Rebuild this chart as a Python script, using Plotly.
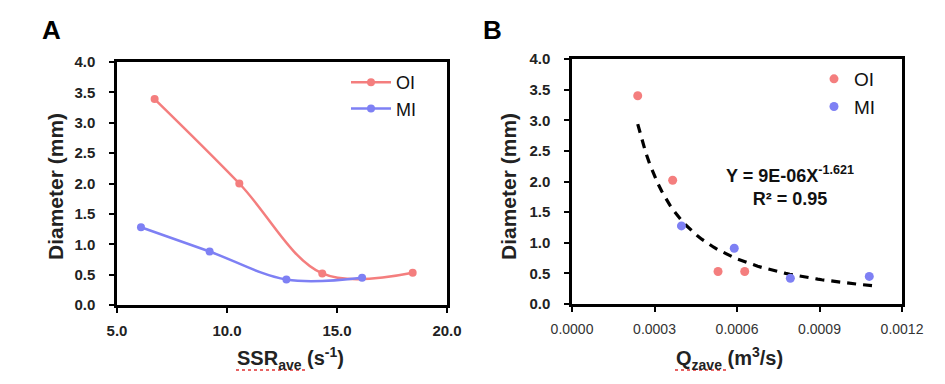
import numpy as np
import plotly.graph_objects as go

# ---- data ----
ssr_oi = [6.71, 10.56, 14.33, 18.44]
dia_oi_a = [3.39, 2.00, 0.52, 0.53]
ssr_mi = [6.09, 9.21, 12.70, 16.14]
dia_mi_a = [1.28, 0.88, 0.42, 0.45]

q_oi = [0.000239, 0.000366, 0.000531, 0.000628]
dia_oi_b = [3.40, 2.02, 0.53, 0.53]
q_mi = [0.000398, 0.000590, 0.000794, 0.001081]
dia_mi_b = [1.275, 0.91, 0.42, 0.45]

y_ticks = [0.0, 0.5, 1.0, 1.5, 2.0, 2.5, 3.0, 3.5, 4.0]
xa_ticks = [5.0, 10.0, 15.0, 20.0]
xb_ticks = [0.0, 0.0003, 0.0006, 0.0009, 0.0012]

OI_COLOR = "#F47E7E"
MI_COLOR = "#7E80F4"
FONT = "Liberation Sans, Arial, sans-serif"

# power-law trendline fitted to all panel-B points
qx = np.array(q_oi + q_mi)
dy = np.array(dia_oi_b + dia_mi_b)
b, lna = np.polyfit(np.log(qx), np.log(dy), 1)
xfit = np.linspace(qx.min(), qx.max() * 1.015, 60)
yfit = np.exp(lna) * xfit ** b

fig = go.Figure()

fig.add_trace(go.Scatter(x=ssr_oi, y=dia_oi_a, name="OI", mode="lines+markers",
                         line=dict(color=OI_COLOR, width=2.5, shape="spline", smoothing=1.0),
                         marker=dict(size=8, color=OI_COLOR), xaxis="x", yaxis="y", legend="legend"))
fig.add_trace(go.Scatter(x=ssr_mi, y=dia_mi_a, name="MI", mode="lines+markers",
                         line=dict(color=MI_COLOR, width=2.5, shape="spline", smoothing=1.0),
                         marker=dict(size=8, color=MI_COLOR), xaxis="x", yaxis="y", legend="legend"))

fig.add_trace(go.Scatter(x=xfit, y=yfit, mode="lines", showlegend=False,
                         line=dict(color="black", width=3.2, dash="9px,7px"),
                         xaxis="x2", yaxis="y2"))
fig.add_trace(go.Scatter(x=q_oi, y=dia_oi_b, name="OI", mode="markers",
                         marker=dict(size=9, color=OI_COLOR), xaxis="x2", yaxis="y2", legend="legend2"))
fig.add_trace(go.Scatter(x=q_mi, y=dia_mi_b, name="MI", mode="markers",
                         marker=dict(size=9, color=MI_COLOR), xaxis="x2", yaxis="y2", legend="legend2"))

W, H = 945, 384
axis_common = dict(showgrid=False, zeroline=False, showline=True, linecolor="black", linewidth=2.5,
                   mirror=True, ticks="outside", ticklen=5, tickwidth=2, tickcolor="black",
                   automargin=False)

fig.update_layout(
    template="none",
    width=W, height=H, autosize=False,
    margin=dict(l=0, r=0, t=0, b=0, pad=0, autoexpand=False),
    paper_bgcolor="white", plot_bgcolor="white",
    font=dict(family=FONT, color="black"),
    xaxis=dict(domain=[117 / W, 447 / W], range=[5, 20], tickvals=xa_ticks,
               ticktext=[f"{v:.1f}" for v in xa_ticks], anchor="y", ticklabelstandoff=5,
               tickfont=dict(size=15, family="Liberation Sans", weight="bold", color="#222"), **axis_common),
    yaxis=dict(domain=[(H - 305) / H, (H - 62) / H], range=[0, 4], tickvals=y_ticks,
               ticktext=[f"{v:.1f}" for v in y_ticks], anchor="x", ticklabelstandoff=11,
               tickfont=dict(size=15, family="Liberation Sans", weight="bold", color="#222"), **axis_common),
    xaxis2=dict(domain=[572 / W, 902 / W], range=[0, 0.0012], tickvals=xb_ticks,
                ticktext=[f"{v:.4f}" for v in xb_ticks], anchor="y2", ticklabelstandoff=5,
                tickfont=dict(size=14, family="Liberation Sans", color="#333"), **axis_common),
    yaxis2=dict(domain=[(H - 304) / H, (H - 59) / H], range=[0, 4], tickvals=y_ticks,
                ticktext=[f"{v:.1f}" for v in y_ticks], anchor="x2", ticklabelstandoff=11,
                tickfont=dict(size=15, family="Liberation Sans", weight="bold", color="#222"), **axis_common),
    legend=dict(x=346 / W, y=(H - 64) / H, xanchor="left", yanchor="top", bgcolor="rgba(0,0,0,0)",
                font=dict(size=18, family="Liberation Sans", color="#111"), itemwidth=40, tracegroupgap=0),
    legend2=dict(x=814 / W, y=(H - 60) / H, xanchor="left", yanchor="top", bgcolor="rgba(0,0,0,0)",
                 font=dict(size=19, family="Liberation Sans", color="#111"), itemwidth=30, tracegroupgap=0),
)

def A(text, x, y, size, **kw):
    d = dict(text=text, x=x / W, y=(H - y) / H, xref="paper", yref="paper", showarrow=False,
             xanchor="center", yanchor="middle",
             font=dict(size=size, family="Liberation Sans", color=kw.pop("color", "#222")))
    d.update(kw)
    return d

ann = [
    A("<b>A</b>", 51, 30, 26, color="black"),
    A("<b>B</b>", 492, 30, 26, color="black"),
    A("<b>Diameter (mm)</b>", 55, 187, 21, textangle=-90),
    A("<b>Diameter (mm)</b>", 508, 187, 21, textangle=-90),
    A("<b>SSR<sub>ave</sub> (s<sup>-1</sup>)</b>", 290, 358, 20),
    A("<b>Q<sub>zave</sub> (m<sup>3</sup>/s)</b>", 729, 358, 20),
    A("<b>Y = 9E-06X<sup>-1.621</sup><br>R² = 0.95</b>", 790, 186, 18, color="#111", align="center"),
]
fig.update_layout(annotations=ann)

# spell-check style dotted underlines seen in the reference
for x0, x1 in [(236, 305), (675, 726)]:
    fig.add_shape(type="line", xref="paper", yref="paper",
                  x0=x0 / W, x1=x1 / W, y0=(H - 370) / H, y1=(H - 370) / H,
                  line=dict(color="#E03030", width=1.5, dash="dot"))

fig.write_html("out.html", config={"displayModeBar": False},
               post_script="document.body.style.margin='0px';")
